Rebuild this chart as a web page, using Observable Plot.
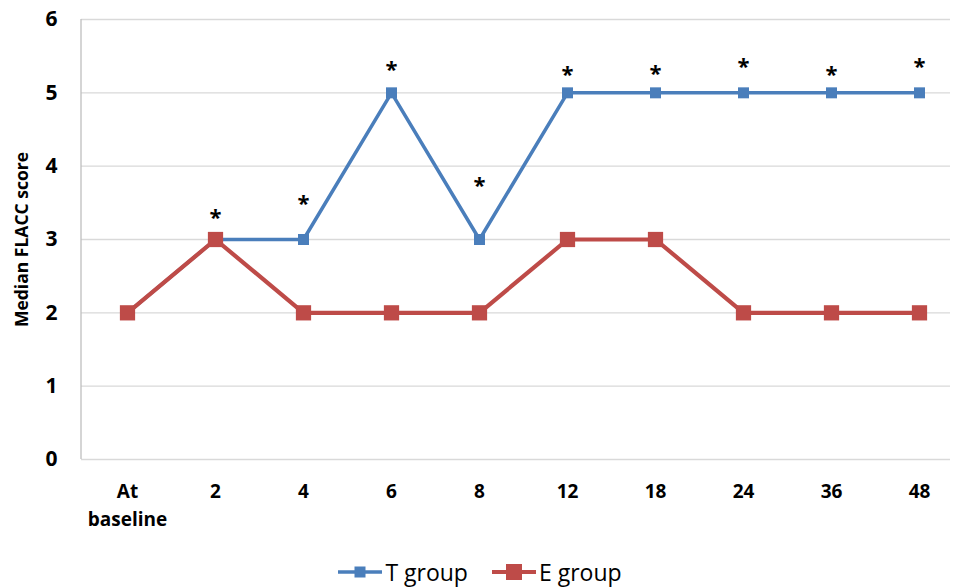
<!DOCTYPE html>
<html><head><meta charset="utf-8">
<script src="https://cdn.jsdelivr.net/npm/d3@7"></script>
<script src="https://cdn.jsdelivr.net/npm/@observablehq/plot@0.6"></script>
<style>
body{margin:0;background:#fff;font-family:"Open Sans",sans-serif;}
#legend{display:flex;justify-content:center;align-items:center;gap:24px;height:74px;margin-left:6px;font-size:23px;color:#000;}
.item{display:flex;align-items:center;gap:3px;}
</style>
</head><body>
<div id="chart"></div>
<div id="legend"></div>
<script>
const categories = ["At baseline","2","4","6","8","12","18","24","36","48"];
const tGroup = [2,3,3,5,3,5,5,5,5,5];
const eGroup = [2,3,2,2,2,3,3,2,2,2];
const starCats = ["2","4","6","8","12","18","24","36","48"];
const starY = [3.38,3.56,5.40,3.81,5.33,5.34,5.43,5.33,5.43];
const yTicks = [0,1,2,3,4,5,6];
const blue = "#4A7EBB", red = "#BE4B48";

const tData = categories.map((c,i)=>({c, v:tGroup[i]}));
const eData = categories.map((c,i)=>({c, v:eGroup[i]}));
const sData = starCats.map((c,i)=>({c, v:starY[i]}));

const plot = Plot.plot({
  width: 954, height: 535,
  marginLeft: 81, marginRight: 4, marginTop: 19, marginBottom: 76,
  style: {fontFamily: "'Open Sans', sans-serif", background: "#fff"},
  x: {type: "point", domain: categories, range: [125, 921], padding: 0, label: null},
  y: {domain: [0,6], label: null},
  marks: [
    Plot.gridY(yTicks, {stroke: "#d9d9d9", strokeOpacity: 1, strokeWidth: 1.3}),
    Plot.axisY(yTicks, {tickSize: 0, tickPadding: 24, fontSize: 21, fontWeight: "bold", fill: "#000", tickFormat: d3.format("d")}),
    Plot.axisX(categories, {tickSize: 0, tickPadding: 19, fontSize: 19, fontWeight: "bold", fill: "#000",
      tickFormat: d => d === "At baseline" ? "At\nbaseline" : d, lineHeight: 1.45}),
    Plot.text(["Median FLACC score"], {frameAnchor: "left", textAnchor: "middle", dx: -59, rotate: -90, fontSize: 17.5, fontWeight: "bold", fill: "#000"}),
    Plot.line(tData, {x: "c", y: "v", stroke: blue, strokeWidth: 3.5}),
    Plot.dot(tData, {x: "c", y: "v", symbol: "square", r: 6.2, fill: blue, stroke: "none"}),
    Plot.line(eData, {x: "c", y: "v", stroke: red, strokeWidth: 4.2}),
    Plot.dot(eData, {x: "c", y: "v", symbol: "square", r: 8.6, fill: red, stroke: "none"}),
    Plot.text(sData, {x: "c", y: "v", text: () => "*", fontSize: 22, fontWeight: "bold", fill: "#000", dy: 6})
  ]
});
document.getElementById("chart").appendChild(plot);
const svg = d3.select(plot);
svg.append("line").attr("x1",81).attr("x2",81).attr("y1",19).attr("y2",459).attr("stroke","#bfbfbf").attr("stroke-width",1.3);

const legend = d3.select("#legend");
[["T group", blue, 11], ["E group", red, 16]].forEach(([label, color, s]) => {
  const it = legend.append("div").attr("class","item");
  const sv = it.append("svg").attr("width",44).attr("height",20);
  sv.append("line").attr("x1",0).attr("x2",44).attr("y1",10).attr("y2",10).attr("stroke",color).attr("stroke-width", s>12?4:3.5);
  sv.append("rect").attr("x",22-s/2).attr("y",10-s/2).attr("width",s).attr("height",s).attr("fill",color);
  it.append("span").text(label);
});
</script>
</body></html>
